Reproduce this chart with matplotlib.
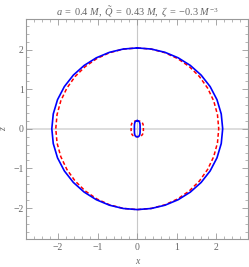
import numpy as np
import matplotlib
matplotlib.use("Agg")
import matplotlib.pyplot as plt
from matplotlib.ticker import MultipleLocator

# polar angle from +z axis (degrees), one quadrant; shapes mirrored by symmetry
theta_deg = [0, 10, 20, 30, 40, 50, 60, 70, 80, 90]
r_outer_solid = [2.04, 2.043, 2.053, 2.068, 2.087, 2.108, 2.128, 2.145, 2.156, 2.16]
r_outer_dashed = [2.04, 2.041, 2.043, 2.045, 2.048, 2.051, 2.054, 2.057, 2.059, 2.06]

# inner surfaces, quadrant points (x, z)
inner_solid_x = [0.0, 0.03, 0.05, 0.063, 0.07, 0.072, 0.072]
inner_solid_z = [0.205, 0.198, 0.18, 0.15, 0.11, 0.06, 0.0]
inner_dashed_x = [0.0, 0.07, 0.11, 0.135, 0.15, 0.155, 0.155]
inner_dashed_z = [0.2, 0.19, 0.17, 0.14, 0.1, 0.05, 0.0]

title = (r'$a\;=\;0.4\ M,\ \tilde{Q}\;=\;0.43\ M,\ \zeta\;=\;{-}0.3\ M^{-3}$')


def mirror_polar(th, r):
    th = np.radians(np.asarray(th, float))
    r = np.asarray(r, float)
    x = r * np.sin(th)
    z = r * np.cos(th)
    return mirror_xy(x, z)


def mirror_xy(x, z):
    x = np.asarray(x, float)
    z = np.asarray(z, float)
    X = np.concatenate([x, x[::-1][1:], -x[1:], -x[::-1][1:]])
    Z = np.concatenate([z, -z[::-1][1:], -z[1:], z[::-1][1:]])
    return X, Z


plt.rcParams['mathtext.fontset'] = 'custom'
plt.rcParams['mathtext.rm'] = 'Liberation Serif'
plt.rcParams['mathtext.it'] = 'Liberation Serif:italic'
plt.rcParams['font.family'] = ['Liberation Serif', 'DejaVu Serif']

grey = '#666666'
fig = plt.figure(figsize=(2.49, 2.67), dpi=100)
ax = fig.add_axes([0.1064, 0.1037, 0.8896, 0.8251])

ax.axhline(0, color='#dddddd', lw=1.4, zorder=0)
ax.axvline(0, color='#c8c8c8', lw=0.8, zorder=0)

x, z = mirror_polar(theta_deg, r_outer_solid)
ax.plot(x, z, color='#0000ff', lw=1.2, zorder=3)
x, z = mirror_polar(theta_deg, r_outer_dashed)
ax.plot(x, z, color='#ff0000', lw=1.1, dashes=(2.5, 1.6), zorder=2)
x, z = mirror_xy(inner_solid_x, inner_solid_z)
ax.plot(x, z, color='#0000ff', lw=1.2, zorder=3)
x, z = mirror_xy(inner_dashed_x, inner_dashed_z)
ax.plot(x, z, color='#ff0000', lw=1.1, dashes=(2.0, 1.6), zorder=2)

ax.set_xlim(-2.8, 2.8)
ax.set_ylim(-2.79, 2.77)

ax.xaxis.set_major_locator(MultipleLocator(1))
ax.yaxis.set_major_locator(MultipleLocator(1))
ax.xaxis.set_minor_locator(MultipleLocator(0.2))
ax.yaxis.set_minor_locator(MultipleLocator(0.2))
ax.tick_params(which='both', direction='in', top=True, right=True, color='#999999',
               labelcolor=grey, labelsize=7)
ax.tick_params(which='major', length=4, width=0.6)
ax.tick_params(which='minor', length=2, width=0.5)
ax.tick_params(axis='x', pad=3)
ax.tick_params(axis='y', pad=2)

def fmt(v, pos):
    v = int(round(v))
    return '\u2212%d' % abs(v) if v < 0 else '%d' % v
ax.xaxis.set_major_formatter(plt.FuncFormatter(fmt))
ax.yaxis.set_major_formatter(plt.FuncFormatter(fmt))

for s in ax.spines.values():
    s.set_color('#999999')
    s.set_linewidth(0.8)

ax.set_xlabel('x', style='italic', color=grey, fontsize=7, labelpad=3)
ax.set_ylabel('z', style='italic', color=grey, fontsize=7, labelpad=4)
ax.set_title(title, color=grey, fontsize=7.5, pad=3)

fig.savefig('out.png', dpi=100)
